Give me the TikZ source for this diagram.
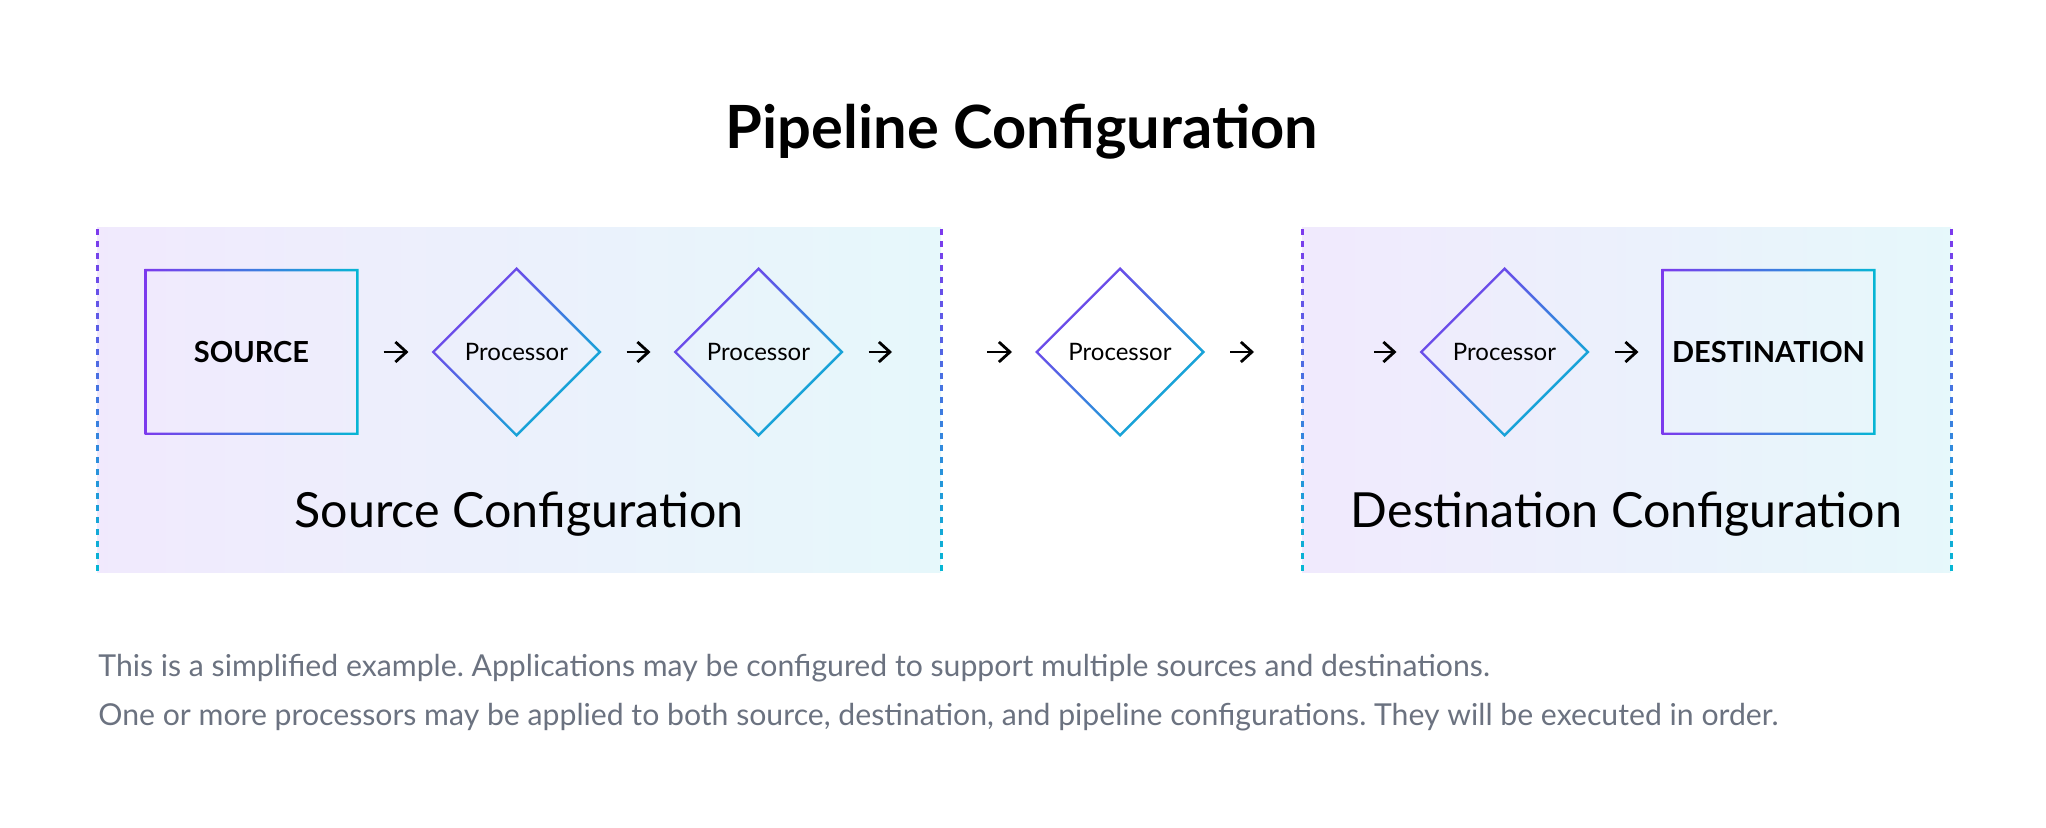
\documentclass[tikz,border=0pt]{standalone}
\usepackage{fontspec}
\setmainfont{Lato}
\frenchspacing
\usetikzlibrary{arrows.meta,positioning,shapes.geometric}
\definecolor{FlowPurple}{HTML}{7C3AED}
\definecolor{FlowCyan}{HTML}{06B6D4}
\definecolor{NoteGray}{HTML}{6B7280}
\tikzset{
  panel/.style={left color=FlowPurple!11, right color=FlowCyan!10,
    minimum height=172pt, inner sep=0pt, outer sep=0pt},
  endpoint/.style={minimum width=107pt, minimum height=83pt, inner sep=0pt,
    outer sep=0pt, font=\fontsize{14.5}{17}\selectfont\bfseries},
  processor/.style={diamond, aspect=1, minimum width=85pt, minimum height=85pt,
    inner sep=0pt, outer sep=0pt, font=\fontsize{12}{14}\selectfont},
  flow/.style={-{Straight Barb[length=5.5pt, width=10pt]}, line width=1.4pt,
    shorten <=12.5pt, shorten >=11.5pt},
  edgedash/.style={line width=1.5pt},
  titletext/.style={font=\fontsize{29.8}{36}\selectfont\bfseries, anchor=base},
  paneltext/.style={font=\fontsize{24.2}{29}\selectfont, anchor=base},
  notetext/.style={font=\fontsize{15.1}{18}\selectfont, text=NoteGray, anchor=base west,
    inner sep=0pt}
}
\begin{document}
\begin{tikzpicture}[x=0.5pt, y=-0.5pt, node distance=36pt]
  \fill[white] (0,0) rectangle (2046,828);
  \useasboundingbox (0,0) rectangle (2046,828);

  % configuration panels
  \node[panel, minimum width=422pt] (srcpanel) at (519,400) {};
  \node[panel, minimum width=324.5pt] (dstpanel) at (1626.5,400) {};
  \foreach \p in {srcpanel,dstpanel}
    \foreach \side in {north west,north east}
      \foreach \k in {0,...,28} {
        \pgfmathsetmacro\mix{100*\k/28}
        \draw[edgedash, FlowCyan!\mix!FlowPurple] ([yshift={-6pt*\k-0.5pt}]\p.\side) -- ++(0,6);
      }

  \node[titletext] (title) at (1022,149) {Pipeline Configuration};

  % chain
  \node[endpoint] (src) at (251.5,352) {SOURCE};
  \node[processor, right=36.5pt of src] (proc1) {Processor};
  \node[processor, right=of proc1] (proc2) {Processor};
  \node[processor] (proc3) at (1120,352) {Processor};
  \node[processor] (proc4) at (1504.5,352) {Processor};
  \node[endpoint, right=of proc4] (dst) {DESTINATION};

  \foreach \n in {src,dst}
    \shade[left color=FlowPurple, right color=FlowCyan, even odd rule]
      (\n.south west) rectangle (\n.north east)
      ([shift={(1.2pt,1.2pt)}]\n.south west) rectangle ([shift={(-1.2pt,-1.2pt)}]\n.north east);
  \foreach \n in {proc1,proc2,proc3,proc4}
    \shade[top color=FlowPurple, bottom color=FlowCyan, shading angle=45, even odd rule]
      (\n.north) -- (\n.east) -- (\n.south) -- (\n.west) -- cycle
      ([yshift=-1.7pt]\n.north) -- ([xshift=-1.7pt]\n.east) -- ([yshift=1.7pt]\n.south)
      -- ([xshift=1.7pt]\n.west) -- cycle;

  \coordinate (srcexit) at (892,352);
  \coordinate (pipein) at (987,352);
  \coordinate (pipeout) at (1254,352);
  \coordinate (dstin) at (1374,352);

  \draw[flow] (src) -- (proc1);
  \draw[flow] (proc1) -- (proc2);
  \draw[flow, shorten >=0pt] (proc2) -- (srcexit);
  \draw[flow, shorten <=0pt] (pipein) -- (proc3);
  \draw[flow, shorten >=0pt] (proc3) -- (pipeout);
  \draw[flow, shorten <=0pt] (dstin) -- (proc4);
  \draw[flow] (proc4) -- (dst);

  \node[paneltext] (srclabel) at ([yshift=22pt]srcpanel.south) {Source Configuration};
  \node[paneltext] (dstlabel) at ([yshift=22pt]dstpanel.south) {Destination Configuration};

  \node[notetext] (note1) at (98,676) {This is a simplified example. Applications may be configured to support multiple sources and destinations.};
  \node[notetext] (note2) at (98,725) {One or more processors may be applied to both source, destination, and pipeline configurations. They will be executed in order.};
\end{tikzpicture}
\end{document}
